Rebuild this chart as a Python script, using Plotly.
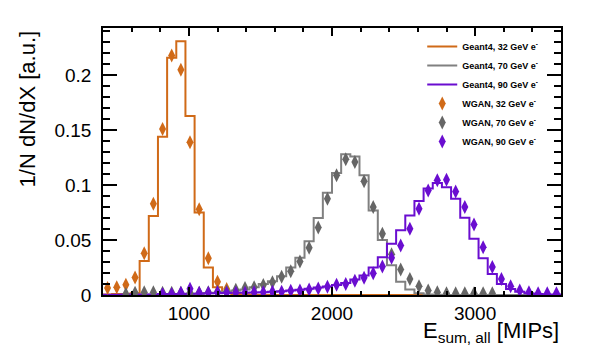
import plotly.graph_objects as go
import numpy as np

# binning: 50 bins of 64 MIPs between 400 and 3600
bin_edges = np.arange(400, 3601, 64)
bin_centers = (bin_edges[:-1] + bin_edges[1:]) / 2

# Geant4 histograms (normalised)
g4_32 = [0.0005, 0.001, 0.001, 0.0015, 0.031, 0.072, 0.144, 0.216, 0.231, 0.163,
         0.075, 0.025, 0.007, 0.0025, 0.001, 0.0005, 0, 0, 0, 0,
         0, 0, 0, 0, 0, 0, 0, 0, 0, 0,
         0, 0, 0, 0, 0, 0, 0, 0, 0, 0,
         0, 0, 0, 0, 0, 0, 0, 0, 0, 0]
g4_70 = [0, 0, 0.0003, 0.0005, 0.0005, 0.0005, 0.0005, 0.0008, 0.001, 0.001,
         0.0012, 0.0015, 0.002, 0.003, 0.004, 0.005, 0.007, 0.010, 0.0125, 0.017,
         0.025, 0.034, 0.049, 0.070, 0.093, 0.111, 0.128, 0.126, 0.109, 0.077,
         0.050, 0.027, 0.012, 0.005, 0.0015, 0.0005, 0.0002, 0, 0, 0,
         0, 0, 0, 0, 0, 0, 0, 0, 0, 0]
g4_90 = [0.0003, 0.0003, 0.0005, 0.0005, 0.0005, 0.0005, 0.0008, 0.001, 0.001, 0.0012,
         0.0012, 0.0015, 0.0015, 0.0018, 0.002, 0.002, 0.0022, 0.0025, 0.003, 0.0035,
         0.004, 0.0048, 0.0058, 0.0068, 0.0078, 0.009, 0.011, 0.014, 0.0178, 0.025,
         0.0343, 0.0466, 0.059, 0.0724, 0.0855, 0.097, 0.102, 0.098, 0.0877, 0.0703,
         0.0511, 0.0335, 0.0192, 0.010, 0.0055, 0.003, 0.0015, 0.001, 0.0005, 0.0005]

# WGAN markers (None = no marker drawn)
wgan_32 = [0.0064, 0.007, 0.0094, 0.016, 0.038, 0.083, 0.151, 0.218, 0.205, 0.139,
           0.078, 0.0334, 0.012, 0.0055, 0.002, 0.001, 0.0005, None, None, None,
           None, None, None, None, None, None, None, None, None, None,
           None, None, None, None, None, None, None, None, None, None,
           None, None, None, None, None, None, None, None, None, None]
wgan_70 = [None, None, 0.001, 0.002, 0.0025, 0.0025, 0.002, 0.002, 0.002, 0.002,
           0.002, 0.0025, 0.003, 0.0035, 0.0048, 0.0064, 0.007, 0.009, 0.0115, 0.0165,
           0.0216, 0.0305, 0.043, 0.0615, 0.0877, 0.109, 0.1236, 0.121, 0.1035, 0.080,
           0.0557, 0.037, 0.0232, 0.0145, 0.008, 0.004, 0.0025, 0.0015, 0.0015, 0.0015,
           0.0015, 0.0015, 0.0015, None, None, None, None, None, None, None]
wgan_90 = [None, None, None, None, None, None, 0.001, 0.001, 0.002, 0.0058,
           0.002, 0.002, 0.0025, 0.002, 0.002, 0.002, 0.0024, 0.0026, 0.003, 0.003,
           0.0038, 0.004, 0.005, 0.006, 0.0075, 0.0094, 0.010, 0.013, 0.0158, 0.0197,
           0.026, 0.0338, 0.045, 0.0603, 0.0785, 0.0952, 0.1044, 0.105, 0.0943, 0.080,
           0.0642, 0.0435, 0.0255, 0.0146, 0.008, 0.004, 0.0025, 0.0015, 0.0015, 0.0015]

ORANGE = '#d06a18'
GREY_LINE = '#808080'
GREY_MARK = '#666666'
PURPLE = '#6a0dd0'
FONT = 'Liberation Sans, Arial, sans-serif'

fig = go.Figure()

hists = [(g4_32, 'Geant4, 32 GeV e<sup>-</sup>', ORANGE),
         (g4_70, 'Geant4, 70 GeV e<sup>-</sup>', GREY_LINE),
         (g4_90, 'Geant4, 90 GeV e<sup>-</sup>', PURPLE)]
for vals, name, col in hists:
    fig.add_trace(go.Scatter(x=bin_edges, y=list(vals) + [vals[-1]],
                             mode='lines', line=dict(color=col, width=2, shape='hv'),
                             name=name))

marks = [(wgan_32, 'WGAN, 32 GeV e<sup>-</sup>', ORANGE),
         (wgan_70, 'WGAN, 70 GeV e<sup>-</sup>', GREY_MARK),
         (wgan_90, 'WGAN, 90 GeV e<sup>-</sup>', PURPLE)]
for vals, name, col in marks:
    fig.add_trace(go.Scatter(x=bin_centers, y=vals, mode='markers',
                             marker=dict(symbol='diamond-tall', size=10, color=col,
                                         line=dict(width=0)),
                             name=name))

axis_common = dict(showline=True, linecolor='black', linewidth=1.5, mirror='allticks',
                   ticks='inside', tickcolor='black', showgrid=False, zeroline=False,
                   tickfont=dict(family=FONT, size=19, color='black'))

fig.update_xaxes(range=[400, 3600], tick0=0, dtick=1000, ticklen=8, tickwidth=1.5,
                 minor=dict(dtick=200, ticklen=4.5, ticks='inside', tickcolor='black', tickwidth=1.5),
                 **axis_common)
fig.update_yaxes(range=[0, 0.243], tick0=0, dtick=0.05, ticklen=14, tickwidth=1.5,
                 ticklabelstandoff=6,
                 minor=dict(dtick=0.01, ticklen=7, ticks='inside', tickcolor='black', tickwidth=1.5),
                 **axis_common)

# page body keeps an 8 px margin, so the figure is 8 px smaller than the window
fig.update_layout(
    width=602, height=351,
    margin=dict(l=95, r=49, t=20, b=64),
    paper_bgcolor='white', plot_bgcolor='white',
    font=dict(family=FONT, color='black'),
    showlegend=True,
    legend=dict(x=0.697, y=0.985, xanchor='left', yanchor='top',
                bgcolor='rgba(0,0,0,0)', tracegroupgap=0,
                font=dict(family=FONT, size=9, color='black', weight='bold')),
    annotations=[
        dict(text='1/N dN/dX [a.u.]', xref='paper', yref='paper', x=-0.164, y=1.0,
             xanchor='center', yanchor='top', textangle=-90, showarrow=False,
             font=dict(family=FONT, size=22, color='black')),
        dict(text='E<sub>sum, all</sub> [MIPs]', xref='paper', yref='paper', x=1.0, y=-0.08,
             xanchor='right', yanchor='top', showarrow=False,
             font=dict(family=FONT, size=22, color='black')),
    ],
)

fig.write_html("out.html")
